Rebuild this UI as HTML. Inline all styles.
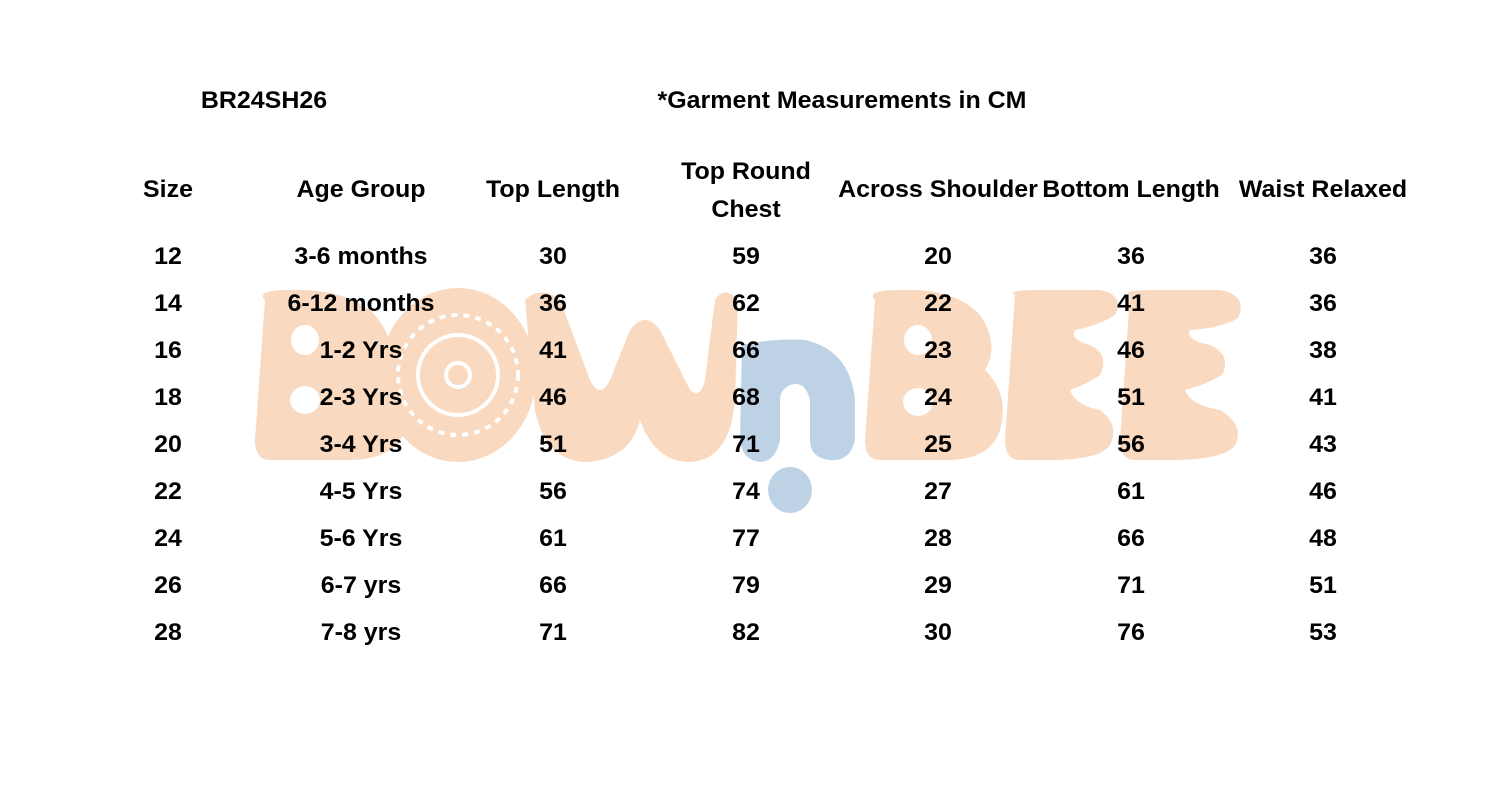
<!DOCTYPE html>
<html><head><style>
body{margin:0;width:1500px;height:800px;background:#fff;overflow:hidden;position:relative;font-family:"Liberation Sans",sans-serif;font-weight:bold;color:#000}
.t{position:absolute;font-size:24px;white-space:nowrap;transform:translate(-50%,-50%) scaleX(1.04)}
svg{position:absolute;left:0;top:0}
</style></head><body>
<svg width="1500" height="800">
<g fill="#F9D9BF">
<path d="M265 300 Q255 290 290 290 Q340 288 370 310 Q400 340 385 370 Q415 395 405 430 Q395 462 340 460 L270 460 Q255 460 255 440 Z"/>
<ellipse cx="458" cy="375" rx="78" ry="87"/>
<path d="M525 300 Q540 285 560 300 L590 380 Q600 400 610 380 L630 330 Q645 310 660 330 L690 390 Q700 400 705 380 L715 300 Q725 285 738 300 L735 400 Q730 460 690 462 Q655 462 640 420 Q630 460 585 462 Q545 460 535 410 Z"/>
<path d="M875 300 Q865 290 900 290 Q955 288 980 315 Q1000 345 985 370 Q1010 395 1000 430 Q990 462 940 460 L880 460 Q865 460 865 440 Z"/>
<path d="M1015 295 Q1005 290 1040 290 L1100 290 Q1125 295 1115 315 Q1100 325 1075 330 Q1070 340 1090 345 Q1110 355 1100 375 Q1085 385 1070 390 Q1075 405 1100 410 Q1120 425 1110 445 Q1100 460 1050 460 L1020 460 Q1005 460 1005 440 Z"/>
<path d="M1130 295 Q1120 290 1155 290 L1220 290 Q1248 295 1238 318 Q1222 328 1190 330 Q1185 340 1210 345 Q1232 355 1222 375 Q1205 385 1185 390 Q1190 405 1220 410 Q1245 425 1235 445 Q1225 460 1170 460 L1135 460 Q1120 460 1120 440 Z"/>
</g>
<g fill="#fff">
<ellipse cx="305" cy="340" rx="14" ry="15"/>
<ellipse cx="305" cy="400" rx="15" ry="14"/>
<ellipse cx="918" cy="340" rx="14" ry="15"/>
<ellipse cx="918" cy="402" rx="15" ry="14"/>
</g>
<g fill="none" stroke="#fff" stroke-width="4">
<circle cx="458" cy="375" r="40"/>
<circle cx="458" cy="375" r="60" stroke-dasharray="6 6"/>
<circle cx="458" cy="375" r="12"/>
</g>
<g fill="#BDD3E5">
<path d="M742 345 Q775 338 805 340 Q850 350 855 400 L855 440 Q850 462 830 460 Q810 458 810 440 L810 400 Q805 380 790 385 Q780 390 780 400 L780 440 Q775 462 760 462 Q742 460 740 440 Z"/>
<ellipse cx="790" cy="490" rx="22" ry="23"/>
</g>
</svg>
<div class="t" style="left:264px;top:101px">BR24SH26</div>
<div class="t" style="left:842px;top:101px">*Garment Measurements in CM</div>
<div class="t" style="left:168px;top:190px">Size</div>
<div class="t" style="left:361px;top:190px">Age Group</div>
<div class="t" style="left:553px;top:190px">Top Length</div>
<div class="t" style="left:746px;top:172px">Top Round</div>
<div class="t" style="left:746px;top:210px">Chest</div>
<div class="t" style="left:938px;top:190px">Across Shoulder</div>
<div class="t" style="left:1131px;top:190px">Bottom Length</div>
<div class="t" style="left:1323px;top:190px">Waist Relaxed</div>
<div id="rows"></div>
<script>
var d=[["12","3-6 months","30","59","20","36","36"],["14","6-12 months","36","62","22","41","36"],["16","1-2 Yrs","41","66","23","46","38"],["18","2-3 Yrs","46","68","24","51","41"],["20","3-4 Yrs","51","71","25","56","43"],["22","4-5 Yrs","56","74","27","61","46"],["24","5-6 Yrs","61","77","28","66","48"],["26","6-7 yrs","66","79","29","71","51"],["28","7-8 yrs","71","82","30","76","53"]];
var xs=[168,361,553,746,938,1131,1323],h="";
d.forEach(function(r,i){r.forEach(function(c,j){h+='<div class="t" style="left:'+xs[j]+'px;top:'+(257+i*47)+'px">'+c+'</div>';});});
document.getElementById("rows").innerHTML=h;
</script>
</body></html>
